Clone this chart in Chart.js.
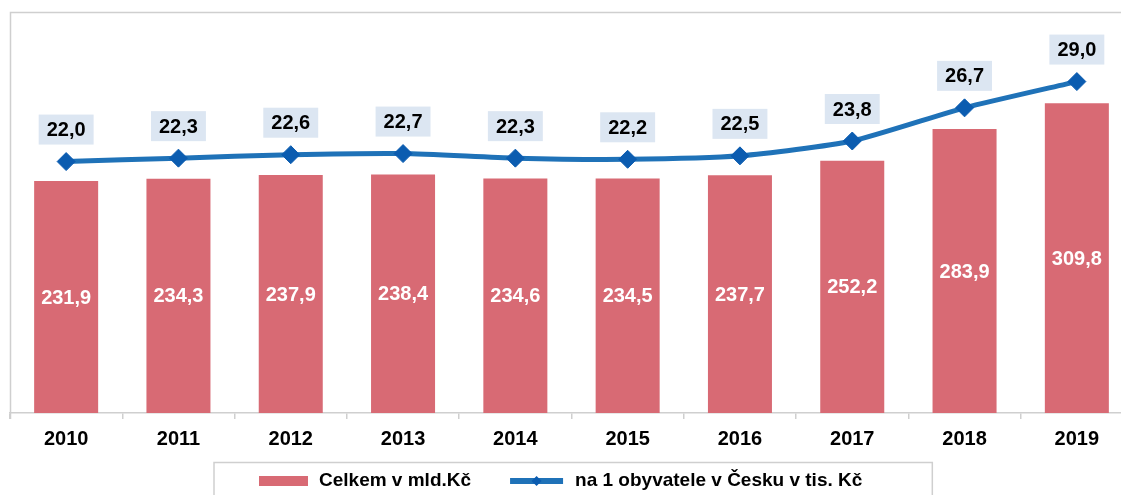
<!DOCTYPE html>
<html lang="cs">
<head>
<meta charset="UTF-8">
<title>Celkem a na 1 obyvatele</title>
<style>
  html, body { margin: 0; padding: 0; background: #fff; overflow: hidden; }
  #wrap { width: 1133px; height: 495px; }
</style>
</head>
<body>
<div id="wrap"><canvas id="chart"></canvas></div>
<script src="https://cdn.jsdelivr.net/npm/chart.js"></script>
<script>
const years = ['2010', '2011', '2012', '2013', '2014', '2015', '2016', '2017', '2018', '2019'];
const celkem = [231.9, 234.3, 237.9, 238.4, 234.6, 234.5, 237.7, 252.2, 283.9, 309.8];
const naObyvatele = [22.0, 22.3, 22.6, 22.7, 22.3, 22.2, 22.5, 23.8, 26.7, 29.0];
const seriesNames = ['Celkem v mld.Kč', 'na 1 obyvatele v Česku v tis. Kč'];

const FONT = '"Liberation Sans", Arial, sans-serif';
const RED = '#D86A74';
const BLUE = '#1F72B8';
const BLUE_PT = '#0B5CB0';
const GREY = '#CFCFCF';

const fmt = v => v.toFixed(1).replace('.', ',');

// popisky hodnot
const labelsPlugin = {
  id: 'valueLabels',
  afterDatasetsDraw(chart) {
    const ctx = chart.ctx;
    ctx.save();
    ctx.font = 'bold 20px ' + FONT;
    ctx.textAlign = 'center';
    ctx.textBaseline = 'middle';
    chart.getDatasetMeta(1).data.forEach((bar, i) => {
      ctx.fillStyle = '#fff';
      ctx.fillText(fmt(celkem[i]), bar.x, (bar.y + bar.base) / 2 + 1);
    });
    chart.getDatasetMeta(0).data.forEach((pt, i) => {
      const txt = fmt(naObyvatele[i]);
      const w = ctx.measureText(txt).width + 16;
      const cy = pt.y - 32;
      ctx.fillStyle = '#DCE6F2';
      ctx.fillRect(pt.x - w / 2, cy - 15, w, 30);
      ctx.fillStyle = '#000';
      ctx.fillText(txt, pt.x, cy + 1);
    });
    ctx.restore();
  }
};

// ramecek a legenda
const framePlugin = {
  id: 'frameLegend',
  afterDraw(chart) {
    const ctx = chart.ctx;
    const area = chart.chartArea;
    const viewW = document.documentElement.clientWidth || 1121;
    ctx.save();
    ctx.strokeStyle = GREY;
    ctx.lineWidth = 1.5;
    ctx.beginPath();
    ctx.moveTo(10.5, area.bottom + 6);
    ctx.lineTo(10.5, 12.5);
    ctx.lineTo(chart.width, 12.5);
    ctx.stroke();

    ctx.font = 'bold 19px ' + FONT;
    ctx.textBaseline = 'middle';
    const w1 = ctx.measureText(seriesNames[0]).width;
    const w2 = ctx.measureText(seriesNames[1]).width;
    const total = 49 + 11 + w1 + 39 + 53 + 12 + w2;
    let x = Math.round((viewW - total) / 2);
    const y = 481;

    ctx.lineWidth = 1.5;
    ctx.strokeRect(x - 45, 462.5, total + 115, 40);

    ctx.fillStyle = RED;
    ctx.fillRect(x, y - 5, 49, 10);
    x += 49 + 11;
    ctx.fillStyle = '#000';
    ctx.fillText(seriesNames[0], x, y);
    x += w1 + 39;
    ctx.strokeStyle = BLUE;
    ctx.lineWidth = 6;
    ctx.beginPath();
    ctx.moveTo(x, y);
    ctx.lineTo(x + 53, y);
    ctx.stroke();
    ctx.fillStyle = BLUE_PT;
    ctx.beginPath();
    ctx.moveTo(x + 26.5, y - 5);
    ctx.lineTo(x + 31.5, y);
    ctx.lineTo(x + 26.5, y + 5);
    ctx.lineTo(x + 21.5, y);
    ctx.closePath();
    ctx.fill();
    x += 53 + 12;
    ctx.fillStyle = '#000';
    ctx.fillText(seriesNames[1], x, y);
    ctx.restore();
  }
};

new Chart(document.getElementById('chart'), {
  type: 'bar',
  data: {
    labels: years,
    datasets: [
      {
        type: 'line',
        label: seriesNames[1],
        data: naObyvatele,
        yAxisID: 'y1',
        borderColor: BLUE,
        borderWidth: 5,
        tension: 0.2,
        pointStyle: 'rectRot',
        pointRadius: 9,
        pointBackgroundColor: BLUE_PT,
        pointBorderColor: BLUE_PT,
        pointBorderWidth: 1,
        order: 0
      },
      {
        label: seriesNames[0],
        data: celkem,
        yAxisID: 'y',
        backgroundColor: RED,
        categoryPercentage: 0.57,
        barPercentage: 1,
        order: 1
      }
    ]
  },
  options: {
    responsive: true,
    maintainAspectRatio: false,
    animation: false,
    layout: { autoPadding: false, padding: { left: 10, top: 13, right: 0, bottom: 32 } },
    plugins: {
      legend: { display: false },
      tooltip: { enabled: false }
    },
    scales: {
      x: {
        grid: { drawOnChartArea: false, tickLength: 6, color: GREY, lineWidth: 1.5 },
        border: { color: GREY, width: 1.5 },
        ticks: { color: '#000', font: { family: FONT, size: 20, weight: 'bold' }, padding: 8 },
        afterFit: s => { s.height = 50; s.paddingLeft = 0; s.paddingRight = 0; }
      },
      y: { display: false, min: 0, max: 400 },
      y1: { display: false, min: 0, max: 35 }
    }
  },
  plugins: [labelsPlugin, framePlugin]
});
</script>
</body>
</html>
